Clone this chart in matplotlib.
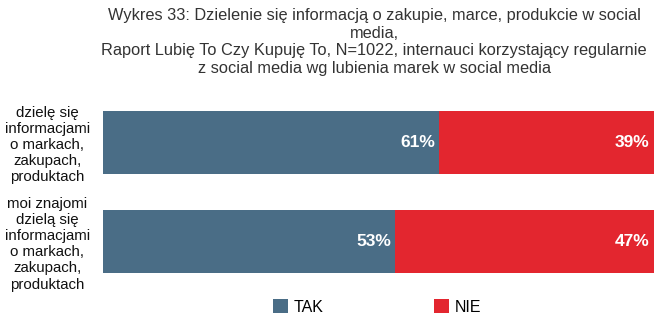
import matplotlib.pyplot as plt

# ========== Data ==========
categories = ["dzielę się\ninformacjami\no markach,\nzakupach,\nproduktach",
              "moi znajomi\ndzielą się\ninformacjami\no markach,\nzakupach,\nproduktach"]
tak = [61, 53]
nie = [39, 47]
series_names = ["TAK", "NIE"]

title = ("Wykres 33: Dzielenie się informacją o zakupie, marce, produkcie w social\n"
         "media,\n"
         "Raport Lubię To Czy Kupuję To, N=1022, internauci korzystający regularnie\n"
         "z social media wg lubienia marek w social media")

BLUE = "#4a6d86"
RED = "#e3262f"

plt.rcParams['font.family'] = ['Liberation Sans', 'DejaVu Sans']

W, H = 655, 323
fig = plt.figure(figsize=(W / 100, H / 100), dpi=100)

# axes placed in pixel terms: x 103..654, y 90..290 (from top)
ax = fig.add_axes([103 / W, 1 - 290 / H, 551 / W, 200 / H])

ypos = [1, 0]
bar_h = 0.636
b1 = ax.barh(ypos, tak, height=bar_h, color=BLUE, label=series_names[0])
b2 = ax.barh(ypos, nie, left=tak, height=bar_h, color=RED, label=series_names[1])

for y, t, n in zip(ypos, tak, nie):
    ax.text(t - 0.7, y, f"{t}%", ha='right', va='center', color='white',
            fontsize=12.5, fontweight='bold')
    ax.text(t + n - 0.9, y, f"{n}%", ha='right', va='center', color='white',
            fontsize=12.5, fontweight='bold')

ax.set_xlim(0, 100)
ax.set_ylim(-0.490, 1.530)
ax.set_xticks([])
ax.set_yticks(ypos, categories)
ax.tick_params(axis='y', length=0, pad=40)
for lbl in ax.get_yticklabels():
    lbl.set_ha('center')
    lbl.set_fontsize(10.8)
    lbl.set_linespacing(1.2)
    lbl.set_color('#111111')
for s in ax.spines.values():
    s.set_visible(False)

fig.text(374 / W, 1 - 8 / H, title, ha='center', va='top', fontsize=11.8,
         color='#333333', linespacing=1.22, multialignment='center')

fig.legend(handles=[b1, b2], loc='center', bbox_to_anchor=(377 / W, 1 - 307 / H),
           ncol=2, frameon=False, fontsize=11.5, handlelength=0.95, handleheight=0.95,
           handletextpad=0.35, columnspacing=6.9)

fig.savefig("out.png", dpi=100)
